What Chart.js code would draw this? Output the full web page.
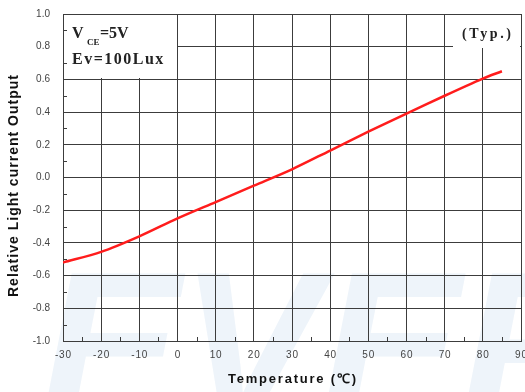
<!DOCTYPE html>
<html>
<head>
<meta charset="utf-8">
<script src="https://cdn.jsdelivr.net/npm/chart.js@4/dist/chart.umd.min.js"></script>
<style>
    html, body { margin: 0; padding: 0; background: #fff; }
    #wrap { width: 525px; height: 392px; position: relative; }
</style>
</head>
<body>
<div id="wrap"><canvas id="chart-temp"></canvas></div>
<script>
'use strict';
// temperature (°C) vs relative light current
let temps = [-30, -20, -10, 0, 10, 20, 30, 40, 50, 60, 70, 80, 85];
let output = [-0.52, -0.455, -0.36, -0.25, -0.15, -0.05, 0.05, 0.165, 0.28, 0.39, 0.50, 0.605, 0.65];

let xTicks = [-30, -20, -10, 0, 10, 20, 30, 40, 50, 60, 70, 80, 90];
let yTicks = [-1.0, -0.8, -0.6, -0.4, -0.2, 0.0, 0.2, 0.4, 0.6, 0.8, 1.0];

let xTitle = 'Temperature (\u2103)';
let yTitle = 'Relative Light current Output';

let gridColor = '#3c3c3c';
let ctx = document.getElementById('chart-temp').getContext('2d');

// spread text out so it fills a given width
function SpacedText(c, text, cx, cy, width){
    c.letterSpacing = '0px';
    let w = c.measureText(text).width;
    let sp = Math.max(0, (width - w) / (text.length - 1));
    c.letterSpacing = sp + 'px';
    c.textAlign = 'left';
    c.textBaseline = 'middle';
    c.fillText(text, cx - width / 2, cy);
    c.letterSpacing = '0px';
}

// faint company watermark behind the plot
let watermark = {
    id: 'watermark',
    beforeDraw(chart){
        let c = chart.ctx;
        c.save();
        c.fillStyle = '#eef4fa';
        c.font = 'italic bold 210px "Liberation Sans"';
        c.textBaseline = 'alphabetic';
        c.fillText('EVER', 40, 418);
        c.restore();
    }
};

// blank boxes for the condition notes, small ticks, and the notes themselves
let notes = {
    id: 'notes',
    beforeDatasetsDraw(chart){
        let c = chart.ctx;
        let x = chart.scales.x;
        let y = chart.scales.y;
        let area = chart.chartArea;
        c.save();
        c.fillStyle = '#fff';
        // conditions box (top left)
        let bx0 = Math.round(area.left) + 1;
        let bx1 = Math.round(x.getPixelForValue(0)) - 1;
        let by0 = Math.round(area.top) + 1;
        let by1 = Math.round(y.getPixelForValue(0.6)) - 1;
        c.fillRect(bx0, by0, bx1 - bx0, by1 - by0);
        // (Typ.) corner
        let tx0 = Math.round(x.getPixelForValue(72.2));
        let tx1 = Math.round(area.right) - 1;
        let ty1 = Math.round(y.getPixelForValue(0.79));
        c.fillRect(tx0, by0, tx1 - tx0, ty1 - by0);

        // minor ticks, pointing inward
        c.strokeStyle = gridColor;
        c.lineWidth = 1;
        c.beginPath();
        for (let v = -0.9; v < 1; v += 0.2) {
            let py = Math.round(y.getPixelForValue(v)) + 0.5;
            c.moveTo(area.left, py);
            c.lineTo(area.left + 4, py);
        }
        for (let v = -25; v < 90; v += 10) {
            let px = Math.round(x.getPixelForValue(v)) + 0.5;
            c.moveTo(px, area.bottom);
            c.lineTo(px, area.bottom - 4);
        }
        c.stroke();

        // text
        c.fillStyle = '#222';
        c.textBaseline = 'alphabetic';
        c.font = 'bold 16px "Liberation Serif"';
        c.fillText('V', 72, 38);
        c.font = 'bold 9px "Liberation Serif"';
        c.fillText('CE', 87, 45);
        c.font = 'bold 16px "Liberation Serif"';
        c.fillText('=5V', 100, 38);
        c.letterSpacing = '1.5px';
        c.fillText('Ev=100Lux', 72, 64);
        c.font = 'bold 14px "Liberation Serif"';
        c.letterSpacing = '2.6px';
        c.fillText('(Typ.)', 462, 38);
        c.restore();
    },
    afterDraw(chart){
        let c = chart.ctx;
        let area = chart.chartArea;
        c.save();
        c.fillStyle = '#111';
        c.font = 'bold 13px "Liberation Sans"';
        SpacedText(c, xTitle, (area.left + area.right) / 2, 379, 128);
        c.translate(14, 186);
        c.rotate(-Math.PI / 2);
        c.font = 'bold 14px "Liberation Sans"';
        SpacedText(c, yTitle, 0, 0, 222);
        c.restore();
    }
};

let chartTemp = new Chart(ctx, {
    type: 'line',
    data: {
        datasets: [{
            data: temps.map((t, i) => ({x: t, y: output[i]})),
            borderColor: '#ff1c1c',
            borderWidth: 2.5,
            pointRadius: 0,
            tension: 0.3,
            fill: false
        }]
    },
    options: {
        responsive: true,
        maintainAspectRatio: false,
        animation: false,
        layout: { padding: {top: 14, right: 4, bottom: 0, left: 0} },
        plugins: { legend: {display: false}, tooltip: {enabled: false} },
        scales: {
            x: {
                type: 'linear',
                min: -30, max: 90,
                afterBuildTicks: scale => { scale.ticks = xTicks.map(v => ({value: v})); },
                afterFit: scale => { scale.height = 51; scale.paddingLeft = 0; scale.paddingRight = 0; },
                grid: { color: gridColor, lineWidth: 1, drawTicks: false },
                border: { color: gridColor, width: 1 },
                ticks: {
                    color: '#444',
                    padding: 8,
                    maxRotation: 0,
                    font: {family: '"Liberation Sans"', size: 10},
                    callback: v => String(v).split('').join('\u200a')
                }
            },
            y: {
                min: -1, max: 1,
                afterBuildTicks: scale => { scale.ticks = yTicks.map(v => ({value: v})); },
                afterFit: scale => { scale.width = 63; scale.paddingTop = 0; scale.paddingBottom = 0; },
                grid: { color: gridColor, lineWidth: 1, drawTicks: false },
                border: { color: gridColor, width: 1 },
                ticks: {
                    color: '#444',
                    padding: 13,
                    font: {family: '"Liberation Sans"', size: 10},
                    callback: v => v.toFixed(1)
                }
            }
        }
    },
    plugins: [watermark, notes]
});
</script>
</body>
</html>
